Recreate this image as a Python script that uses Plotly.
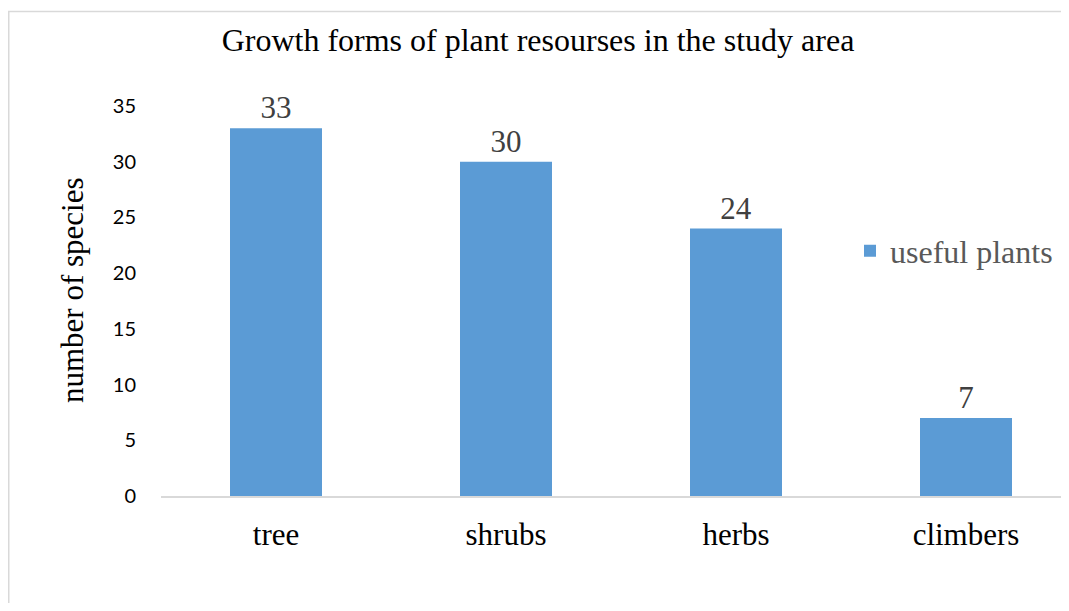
import plotly.graph_objects as go

categories = ["tree", "shrubs", "herbs", "climbers"]
values = [33, 30, 24, 7]
series_name = "useful plants"
y_ticks = [0, 5, 10, 15, 20, 25, 30, 35]

# page has an 8px body margin; work in page coordinates and convert
OFF = 8
W, H = 1069 - 2 * OFF, 611 - 2 * OFF
L, R, T, B = 161 - OFF, 0, 106 - OFF, (611 - OFF) - 496
pw = W - L - R
ph = H - T - B
cat_px = 230  # pixels per category in the reference
x_end = (W + OFF - 161) / cat_px - 0.5


def px_x(x):  # page x -> paper
    return (x - OFF - L) / pw


def px_y(y):  # page y -> paper
    return (H - B - (y - OFF)) / ph


fig = go.Figure()
fig.add_trace(go.Bar(
    x=categories, y=values, name=series_name,
    marker=dict(color="#5B9BD5", line=dict(width=0)),
    text=[str(v) for v in values], textposition="outside",
    textfont=dict(family="Liberation Serif", size=31, color="#404040"),
    cliponaxis=False,
))

fig.add_shape(type="rect", xref="paper", yref="paper",
              x0=px_x(8.75), x1=px_x(1090), y0=px_y(11.5), y1=px_y(640),
              line=dict(color="#D9D9D9", width=1.5), fillcolor="rgba(0,0,0,0)", layer="below")

fig.add_annotation(text="number of species", textangle=-90, showarrow=False,
                   xref="paper", yref="paper", x=px_x(72), y=px_y(290),
                   xanchor="center", yanchor="middle",
                   font=dict(family="Liberation Serif", size=31, color="black"))

fig.update_layout(
    width=W, height=H,
    margin=dict(l=L, r=R, t=T, b=B),
    paper_bgcolor="white", plot_bgcolor="white",
    bargap=0.6,
    showlegend=True,
    legend=dict(x=px_x(850), y=px_y(251), xanchor="left", yanchor="middle",
                font=dict(family="Liberation Serif", size=32, color="#595959"),
                bgcolor="rgba(0,0,0,0)", itemwidth=30),
    title=dict(text="Growth forms of plant resourses in the study area",
               x=(538 - OFF) / W, xanchor="center", y=1 - (40 - OFF) / H, yanchor="middle",
               font=dict(family="Liberation Serif", size=32, color="black")),
    xaxis=dict(range=[-0.5, x_end], showline=True, linecolor="#D9D9D9", linewidth=1.5,
               ticks="", showgrid=False, zeroline=False,
               tickfont=dict(family="Liberation Serif", size=31, color="black"),
               ticklabelstandoff=10),
    yaxis=dict(range=[0, 35], tickvals=y_ticks, showgrid=False, zeroline=False, showline=False,
               ticks="", tickfont=dict(family="Lato", size=20, color="black"),
               ticklabelstandoff=24),
)

fig.write_html("out.html")
